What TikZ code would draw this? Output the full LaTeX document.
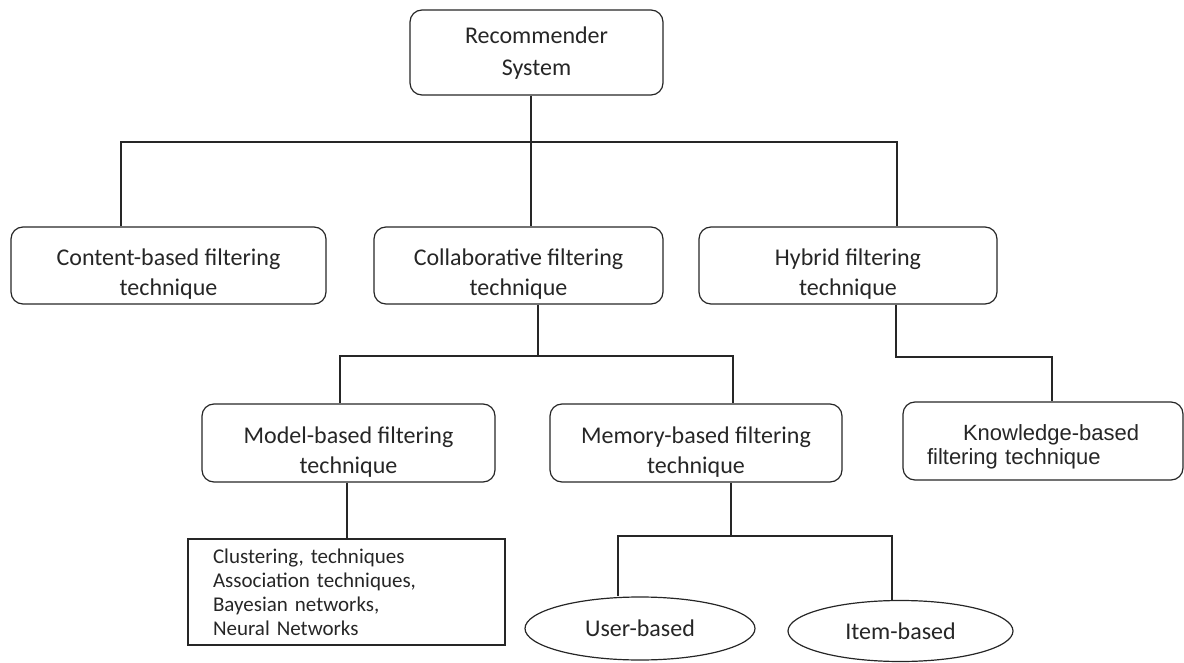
\documentclass[tikz,border=0pt]{standalone}
\usepackage{fontspec}
\setmainfont{Carlito}
\newfontfamily\arialfont{Liberation Sans}
\usetikzlibrary{shapes.geometric}

\begin{document}
\begin{tikzpicture}[x=1pt, y=-1pt, color=black!85, line width=1.2pt,
  every node/.style={font=\fontsize{24}{30}\selectfont},
  box/.style={draw, rounded corners=12pt, align=center, inner sep=0pt, text height=64pt},
  listbox/.style={draw, align=left, inner xsep=25pt, inner ysep=0pt, font=\fontsize{21}{24}\selectfont},
  oval/.style={draw, ellipse, inner sep=0pt}]
  \useasboundingbox (0,0) rectangle (1184,663);

  % 1. top level
  \node[box, text height=50pt, font=\fontsize{24}{32}\selectfont, minimum width=253pt, minimum height=85pt] (rs) at (536.5,52.5) {Recommender\\System};

  % 2. three techniques
  \node[box, minimum width=315pt, minimum height=77pt] (cb) at (168.5,265.5) {Content-based filtering\\technique};
  \node[box, minimum width=289pt, minimum height=77pt] (cf) at (518.5,265.5) {Collaborative filtering\\technique};
  \node[box, minimum width=298pt, minimum height=77pt] (hf) at (848,265.5) {Hybrid filtering\\technique};

  % 3. second level
  \node[box, minimum width=293pt, minimum height=78pt] (mb) at (348.5,443) {Model-based filtering\\technique};
  \node[box, minimum width=292pt, minimum height=78pt] (mem) at (696,443) {Memory-based filtering\\technique};
  \node[box, align=left, text width=232pt, inner xsep=24pt, minimum height=78pt, text height=28pt,
        font=\arialfont\fontsize{22}{24}\selectfont] (kb) at (1043,441) {\hspace*{36pt}Knowledge-based\\filtering technique};

  % 4. leaves
  \node[listbox, text width=267pt, minimum height=106pt] (cl) at (346.5,592) {Clustering, techniques\\Association techniques,\\Bayesian networks,\\Neural Networks};
  \node[oval, minimum width=230pt, minimum height=63pt] (ub) at (640,628.5) {User-based};
  \node[oval, minimum width=225pt, minimum height=61pt] (ib) at (900.5,631) {Item-based};

  % 5. connectors
  \coordinate (top) at (531,142);
  \coordinate (mid) at (538,356);
  \coordinate (hk) at (896,357);
  \coordinate (mj) at (731,536);
  \draw ([xshift=-5.5]rs.south) -- ([xshift=12.5]cf.north);
  \draw ([xshift=-47.5]cb.north) |- (top) -| ([xshift=49]hf.north);
  \draw ([xshift=19.5]cf.south) -- (mid);
  \draw ([xshift=-8.5]mb.north) |- (mid) -| ([xshift=37]mem.north);
  \draw ([xshift=48]hf.south) -- (hk) -| ([xshift=9]kb.north);
  \draw ([xshift=-1.5]mb.south) -- ([xshift=-1.5]mb.south |- cl.north);
  \draw ([xshift=35]mem.south) -- (mj);
  \draw ([xshift=-22]ub.north) |- (mj) -| ([xshift=-8.5]ib.north);
\end{tikzpicture}
\end{document}
